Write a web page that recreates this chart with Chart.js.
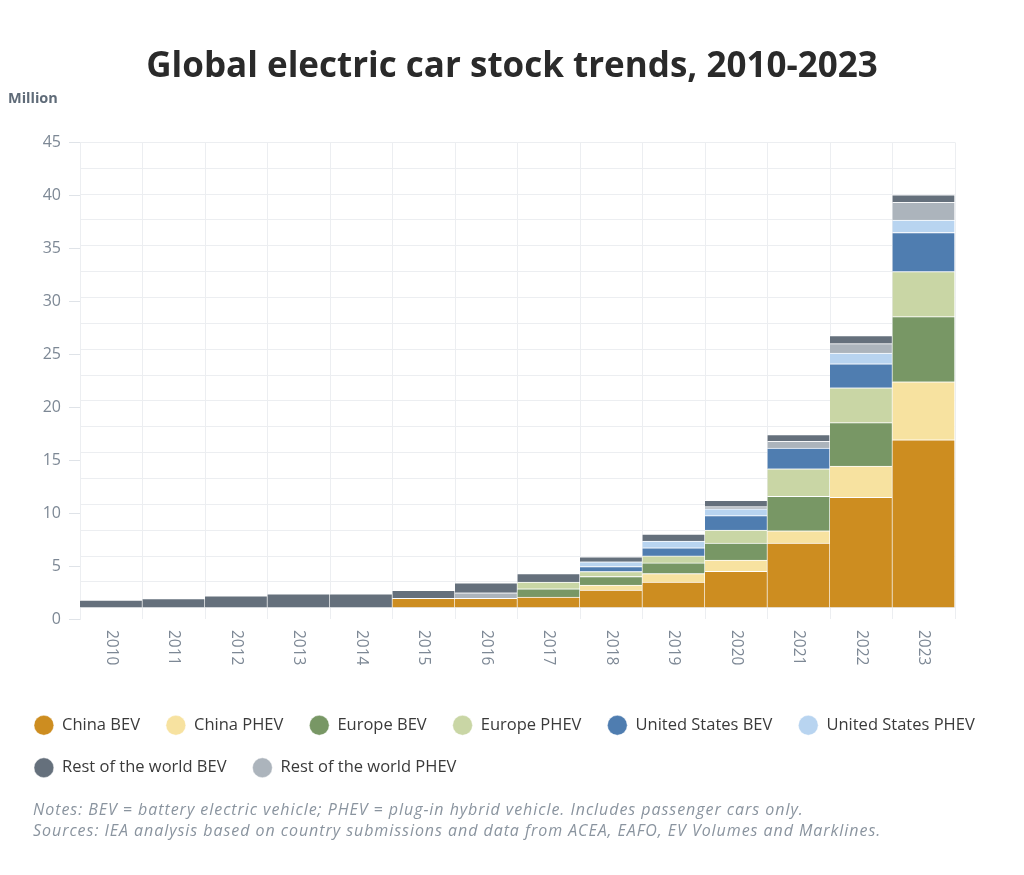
<!DOCTYPE html>
<html>
<head>
<meta charset="utf-8">
<title>Global electric car stock trends, 2010-2023</title>
<script src="https://cdn.jsdelivr.net/npm/chart.js@4.4.1/dist/chart.umd.min.js"></script>
<style>
    html, body { margin: 0; padding: 0; background: #ffffff; }
    #wrap { position: relative; width: 1024px; height: 875px; }
    #notes {
        position: absolute; left: 33px; top: 799px;
        font-family: "Open Sans", sans-serif; font-style: italic;
        font-size: 16px; letter-spacing: 0.95px; line-height: 21px; color: #8a949f;
        white-space: nowrap;
    }
</style>
</head>
<body>
<div id="wrap">
    <canvas id="myChart"></canvas>
    <div id="notes">Notes: BEV = battery electric vehicle; PHEV = plug-in hybrid vehicle. Includes passenger cars only.<br>Sources: IEA analysis based on country submissions and data from ACEA, EAFO, EV Volumes and Marklines.</div>
</div>
<script>
// values in million cars
const years = ['2010', '2011', '2012', '2013', '2014', '2015', '2016', '2017', '2018', '2019', '2020', '2021', '2022', '2023'];

const chinaBev    = [null, null, null, null, null, 0.93, 0.93, 1.03, 1.71, 2.50, 3.54, 6.26, 10.69, 16.25];
const chinaPhev   = [null, null, null, null, null, null, null, null, 0.48, 0.81, 1.07, 1.19, 3.01, 5.60];
const europeBev   = [null, null, null, null, null, null, null, 0.81, 0.84, 1.03, 1.65, 3.34, 4.20, 6.30];
const europePhev  = [null, null, null, null, null, null, null, 0.64, 0.48, 0.68, 1.26, 2.65, 3.37, 4.36];
const usBev       = [null, null, null, null, null, null, null, null, 0.48, 0.78, 1.39, 2.01, 2.33, 3.78];
const usPhev      = [null, null, null, null, null, null, null, null, 0.46, 0.65, 0.65, null, 1.03, 1.19];
const restPhev    = [null, null, null, null, null, null, 0.52, null, null, null, 0.22, 0.64, 0.91, 1.72];
const restBev     = [0.74, 0.90, 1.16, 1.36, 1.36, 0.75, 0.97, 0.82, 0.48, 0.68, 0.62, 0.65, 0.78, 0.74];

const yTicks = [0, 5, 10, 15, 20, 25, 30, 35, 40, 45];
const gridSteps = [0, 2.5, 5, 7.5, 10, 12.5, 15, 17.5, 20, 22.5, 25, 27.5, 30, 32.5, 35, 37.5, 40, 42.5, 45];

const legendOrder = ['China BEV', 'China PHEV', 'Europe BEV', 'Europe PHEV', 'United States BEV', 'United States PHEV', 'Rest of the world BEV', 'Rest of the world PHEV'];

const greyText = '#7d8895';
const gridColor = '#eceef1';

Chart.defaults.font.family = '"Open Sans", sans-serif';

// x labels read top to bottom, so they are drawn here
const yearLabels = {
    id: 'yearLabels',
    afterDraw(chart) {
        const xs = chart.scales.x;
        const ctx = chart.ctx;
        ctx.save();
        ctx.font = '15.5px "Open Sans", sans-serif';
        ctx.fillStyle = greyText;
        ctx.textAlign = 'left';
        ctx.textBaseline = 'middle';
        xs.ticks.forEach((t, i) => {
            ctx.save();
            ctx.translate(xs.getPixelForTick(i), chart.chartArea.bottom + 11);
            ctx.rotate(Math.PI / 2);
            ctx.fillText(xs.getLabelForValue(t.value), 0, 0);
            ctx.restore();
        });
        ctx.restore();
    }
};

const makeSet = (label, data, color) => ({
    label: label,
    data: data,
    backgroundColor: color,
    borderColor: 'rgba(255,255,255,0.85)',
    borderWidth: { top: 1, right: 1, bottom: 0, left: 0 },
    borderSkipped: false,
    barPercentage: 1,
    categoryPercentage: 1,
    yAxisID: 'y'
});

const ctx = document.getElementById('myChart');
const myChart = new Chart(ctx, {
    type: 'bar',
    data: {
        labels: years,
        datasets: [
            makeSet('China BEV', chinaBev, '#cd8d20'),
            makeSet('China PHEV', chinaPhev, '#f7e2a0'),
            makeSet('Europe BEV', europeBev, '#789765'),
            makeSet('Europe PHEV', europePhev, '#c9d6a5'),
            makeSet('United States BEV', usBev, '#4f7db0'),
            makeSet('United States PHEV', usPhev, '#b8d4f0'),
            makeSet('Rest of the world PHEV', restPhev, '#acb4bc'),
            makeSet('Rest of the world BEV', restBev, '#65707c')
        ]
    },
    options: {
        responsive: true,
        maintainAspectRatio: false,
        animation: false,
        layout: { padding: { top: 0, left: 8, right: 8, bottom: 89 } },
        plugins: {
            title: {
                display: true,
                text: 'Global electric car stock trends, 2010-2023',
                color: '#2a2a2a',
                font: { family: '"Open Sans"', size: 35, weight: 'bold' },
                padding: { top: 46, bottom: 2 }
            },
            subtitle: {
                display: true,
                text: 'Million',
                align: 'start',
                color: '#5f6b78',
                font: { size: 14.5, weight: 'bold' },
                padding: { top: 0, bottom: 35 }
            },
            legend: {
                position: 'bottom',
                align: 'start',
                labels: {
                    usePointStyle: true,
                    pointStyle: 'circle',
                    boxHeight: 14,
                    pointStyleWidth: 19.8,
                    padding: 26,
                    color: '#3a3a3a',
                    font: { size: 16.5 },
                    sort: (a, b) => legendOrder.indexOf(a.text) - legendOrder.indexOf(b.text)
                }
            },
            tooltip: { enabled: true }
        },
        scales: {
            x: {
                stacked: true,
                offset: true,
                grid: { offset: true, color: gridColor, drawTicks: false },
                border: { display: false },
                ticks: { display: false },
                afterFit: (s) => { s.height = 72; }
            },
            y: {
                stacked: true,
                position: 'right',
                min: -1.08,
                max: 45,
                grid: { color: gridColor, drawTicks: false },
                border: { display: false },
                ticks: { display: false },
                afterBuildTicks: (s) => { s.ticks = gridSteps.map(v => ({ value: v })); },
                afterFit: (s) => { s.width = 61; }
            },
            yl: {
                position: 'left',
                min: 0,
                max: 45,
                grid: { drawOnChartArea: false, drawTicks: true, tickLength: 11, color: '#dfe3e8' },
                border: { display: true, color: gridColor },
                ticks: { color: greyText, font: { size: 16 }, padding: 8 },
                afterBuildTicks: (s) => { s.ticks = yTicks.map(v => ({ value: v })); },
                afterFit: (s) => { s.width = 72; }
            }
        }
    },
    plugins: [yearLabels]
});
</script>
</body>
</html>
